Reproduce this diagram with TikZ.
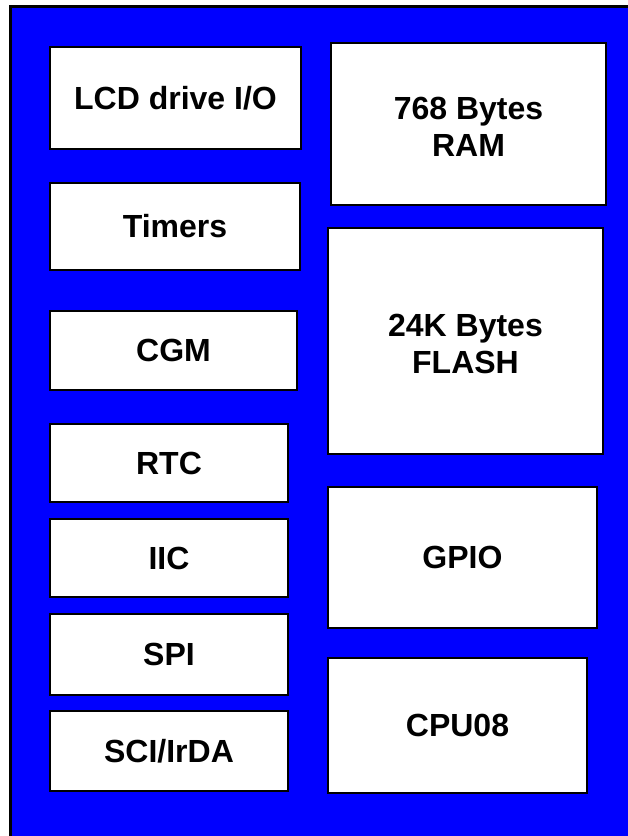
\documentclass[tikz,border=0pt]{standalone}
\usepackage{fontspec}
\setmainfont{Liberation Sans}
\usetikzlibrary{fit}
\definecolor{chipblue}{RGB}{0,0,255}
\tikzset{
  blk/.style={draw=black, fill=white, line width=2.2pt, inner sep=0pt},
  lbl/.style={inner sep=0pt, align=center,
    font=\fontsize{24}{28}\selectfont\bfseries},
}
\begin{document}
\begin{tikzpicture}[x=0.75pt,y=-0.75pt]
\useasboundingbox (0,0) rectangle (628,836);
\clip (0,0) rectangle (628,836);
\fill[white] (0,0) rectangle (628,836);
\draw[fill=chipblue, line width=2.2pt] (10.5,6.5) rectangle (660,870);
% left column
\node[blk, fit={(50,47) (301,149)}] (lcd) {};
\node[blk, fit={(50,183) (300,270)}] (tim) {};
\node[blk, fit={(50,311) (297,390)}] (cgm) {};
\node[blk, fit={(50,424) (288,502)}] (rtc) {};
\node[blk, fit={(50,519) (288,597)}] (iic) {};
\node[blk, fit={(50,614) (288,695)}] (spi) {};
\node[blk, fit={(50,711) (288,791)}] (sci) {};
% right column
\node[blk, fit={(331,43) (606,205)}] (ram) {};
\node[blk, fit={(328,228) (603,454)}] (flash) {};
\node[blk, fit={(328,487) (597,628)}] (gpio) {};
\node[blk, fit={(328,658) (587,793)}] (cpu) {};
% labels
\node[lbl] (tlcd) at (lcd.center) {LCD drive I/O};
\node[lbl] (ttim) at (tim.center) {Timers};
\node[lbl] (tcgm) at (cgm.center) {CGM};
\node[lbl] (trtc) at (rtc.center) {RTC};
\node[lbl] (tiic) at (iic.center) {IIC};
\node[lbl] (tspi) at (spi.center) {SPI};
\node[lbl] (tsci) at (sci.center) {SCI/IrDA};
\node[lbl] (tram) at ([yshift=-2pt]ram.center) {768 Bytes\\RAM};
\node[lbl] (tflash) at ([yshift=-2pt]flash.center) {24K Bytes\\FLASH};
\node[lbl] (tgpio) at (gpio.center) {GPIO};
\node[lbl] (tcpu) at (cpu.center) {CPU08};
\end{tikzpicture}
\end{document}
